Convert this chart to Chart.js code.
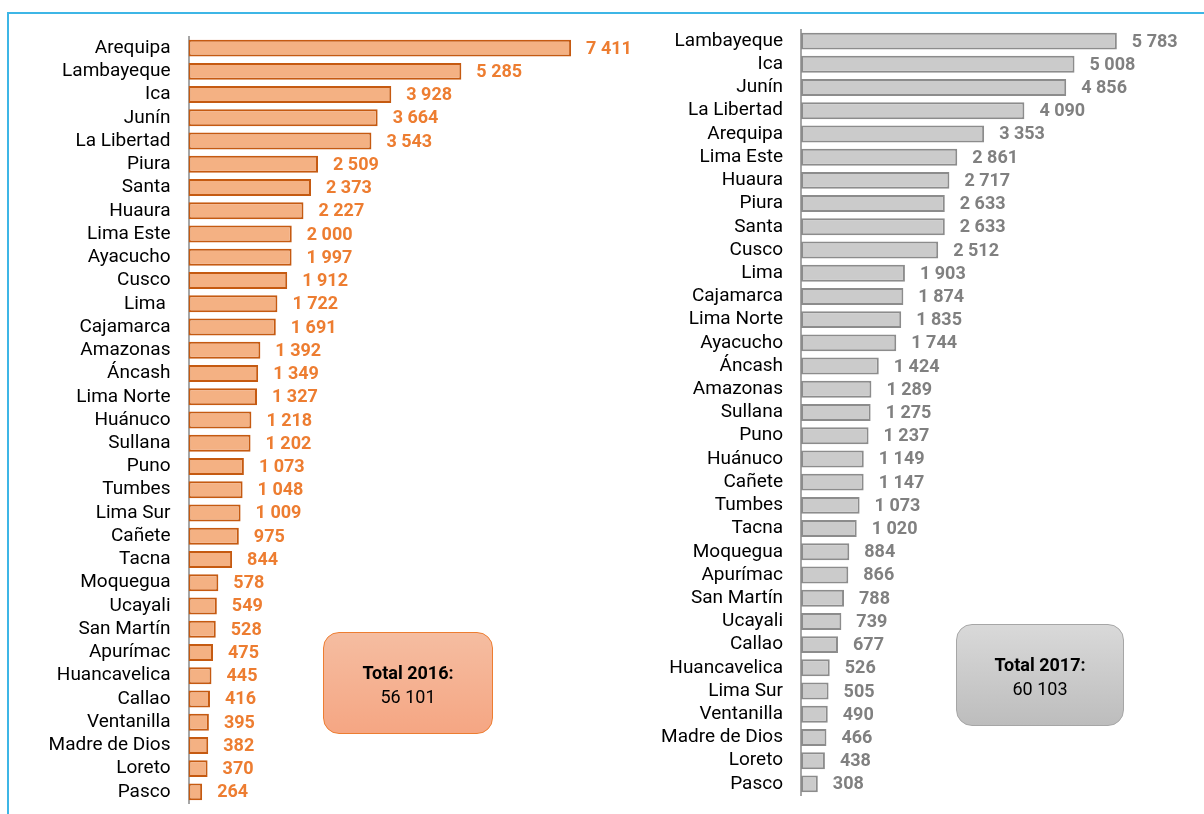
<!DOCTYPE html>
<html>
<head>
<meta charset="utf-8">
<script src="https://cdn.jsdelivr.net/npm/chart.js@4.4.0/dist/chart.umd.min.js"></script>
<style>
  body { margin: 0; background: #fff; width: 1204px; height: 814px; overflow: hidden; position: relative; }
  .frame { position: absolute; left: 7px; top: 12px; width: 1197px; height: 802px;
           border-top: 2px solid #3db6e6; border-left: 2px solid #3db6e6; box-sizing: border-box; }
  canvas { position: absolute; top: 0; }
  .total { position: absolute; box-sizing: border-box; border-radius: 16px; text-align: center;
           font-family: Roboto, 'Liberation Sans', sans-serif;
           font-size: 18px; line-height: 24px; color: #000; padding-top: 28px; }
  .total b { display: block; }
  #box2016 { left: 323px; top: 632px; width: 170px; height: 102px; border: 1px solid #ed7d31;
             background: linear-gradient(#f5bda1, #f5a683); }
  #box2017 { left: 956px; top: 624px; width: 168px; height: 102px; border: 1px solid #a6a6a6;
             background: linear-gradient(#d9d9d9, #bdbdbd); }
</style>
</head>
<body>
<div class="frame"></div>
<canvas id="chart2016" width="650" height="814" style="left:0"></canvas>
<canvas id="chart2017" width="569" height="814" style="left:635px"></canvas>
<div class="total" id="box2016"><b>Total 2016:</b><span id="sum2016"></span></div>
<div class="total" id="box2017"><b>Total 2017:</b><span id="sum2017"></span></div>
<script>
const regions2016 = ["Arequipa", "Lambayeque", "Ica", "Junín", "La Libertad", "Piura", "Santa", "Huaura",
  "Lima Este", "Ayacucho", "Cusco", "Lima ", "Cajamarca", "Amazonas", "Áncash", "Lima Norte", "Huánuco",
  "Sullana", "Puno", "Tumbes", "Lima Sur", "Cañete", "Tacna", "Moquegua", "Ucayali", "San Martín",
  "Apurímac", "Huancavelica", "Callao", "Ventanilla", "Madre de Dios", "Loreto", "Pasco"];
const values2016 = [7411, 5285, 3928, 3664, 3543, 2509, 2373, 2227, 2000, 1997, 1912, 1722, 1691, 1392,
  1349, 1327, 1218, 1202, 1073, 1048, 1009, 975, 844, 578, 549, 528, 475, 445, 416, 395, 382, 370, 264];

const regions2017 = ["Lambayeque", "Ica", "Junín", "La Libertad", "Arequipa", "Lima Este", "Huaura",
  "Piura", "Santa", "Cusco", "Lima", "Cajamarca", "Lima Norte", "Ayacucho", "Áncash", "Amazonas",
  "Sullana", "Puno", "Huánuco", "Cañete", "Tumbes", "Tacna", "Moquegua", "Apurímac", "San Martín",
  "Ucayali", "Callao", "Huancavelica", "Lima Sur", "Ventanilla", "Madre de Dios", "Loreto", "Pasco"];
const values2017 = [5783, 5008, 4856, 4090, 3353, 2861, 2717, 2633, 2633, 2512, 1903, 1874, 1835, 1744,
  1424, 1289, 1275, 1237, 1149, 1147, 1073, 1020, 884, 866, 788, 739, 677, 526, 505, 490, 466, 438, 308];

const font = "Roboto, 'Liberation Sans', sans-serif";

function fmt(v) {
  return String(v).replace(/\B(?=(\d{3})+(?!\d))/g, " ");
}

// draws the value after the end of each bar
const valueLabels = {
  id: "valueLabels",
  afterDatasetsDraw(chart, args, opts) {
    const ctx = chart.ctx;
    const meta = chart.getDatasetMeta(0);
    const data = chart.data.datasets[0].data;
    ctx.save();
    ctx.font = "bold 18px " + font;
    ctx.fillStyle = opts.color;
    ctx.textAlign = "left";
    ctx.textBaseline = "middle";
    meta.data.forEach((bar, i) => {
      ctx.fillText(fmt(data[i]), bar.x + 15, bar.y + 1);
    });
    ctx.restore();
  }
};

function makeChart(id, labels, values, o) {
  return new Chart(document.getElementById(id), {
    type: "bar",
    data: {
      labels: labels,
      datasets: [{
        data: values,
        backgroundColor: o.fill,
        borderColor: o.border,
        borderWidth: 2,
        borderSkipped: false,
        barPercentage: 0.73,
        categoryPercentage: 1
      }]
    },
    options: {
      indexAxis: "y",
      responsive: false,
      animation: false,
      layout: { padding: { top: o.top, bottom: o.bottom, right: o.right, left: 0 } },
      plugins: {
        legend: { display: false },
        tooltip: { enabled: false },
        valueLabels: { color: o.text }
      },
      scales: {
        x: { display: false, min: 0, max: o.max },
        y: {
          grid: { display: false, drawTicks: false },
          border: { display: true, color: "#a6a6a6", width: 2 },
          ticks: { color: "#000", padding: 18, autoSkip: false, font: { family: font, size: 19 } },
          afterFit: (scale) => {
            scale.width = o.axisWidth;
            scale.paddingTop = 0;
            scale.paddingBottom = 0;
          }
        }
      }
    },
    plugins: [valueLabels]
  });
}

makeChart("chart2016", regions2016, values2016, {
  fill: "#f4b183", border: "#c55a11", text: "#ed7d31",
  max: 8000, top: 36.5, bottom: 10.5, right: 48.5, axisWidth: 188.5
});
makeChart("chart2017", regions2017, values2017, {
  fill: "#cbcbcb", border: "#8c8c8c", text: "#808080",
  max: 6500, top: 29.5, bottom: 18.5, right: 48, axisWidth: 166
});

document.getElementById("sum2016").textContent = fmt(values2016.reduce((a, b) => a + b, 0));
document.getElementById("sum2017").textContent = fmt(values2017.reduce((a, b) => a + b, 0));
</script>
</body>
</html>
